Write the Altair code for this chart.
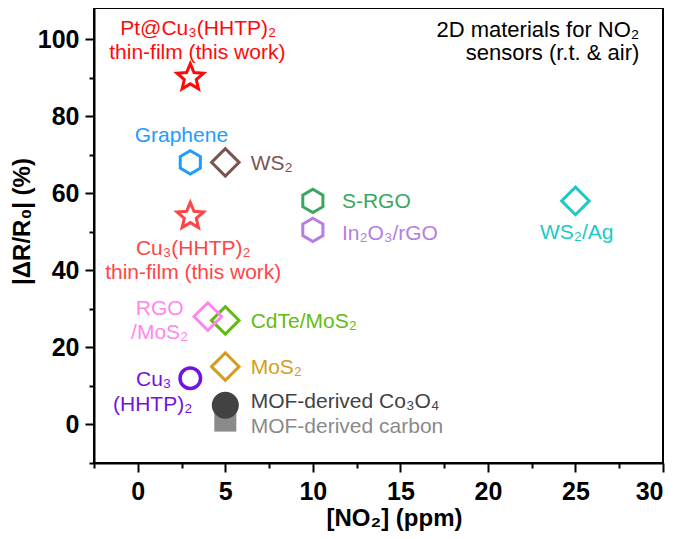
import altair as alt
import pandas as pd

# ---------------- data ----------------
materials = [
    "Pt@Cu3(HHTP)2 thin-film", "Cu3(HHTP)2 thin-film", "Graphene", "WS2",
    "S-RGO", "In2O3/rGO", "WS2/Ag", "CdTe/MoS2", "RGO/MoS2", "MoS2",
    "Cu3(HHTP)2", "MOF-derived carbon", "MOF-derived Co3O4",
]
no2_ppm = [3, 3, 3, 5, 10, 10, 25, 5, 4, 5, 3, 5, 5]
response_pct = [90, 54, 68, 68, 58, 50.5, 58, 27, 28, 15, 12, 1, 5]
marker = ["star", "star", "hexagon", "diamond", "hexagon", "hexagon", "diamond",
          "diamond", "diamond", "diamond", "ring", "square", "disc"]

# annotation texts (anchored in data units)
label_text = [
    "Pt@Cu₃(HHTP)₂", "thin-film (this work)", "Graphene", "WS₂", "S-RGO",
    "In₂O₃/rGO", "WS₂/Ag", "Cu₃(HHTP)₂", "thin-film (this work)", "RGO",
    "/MoS₂", "CdTe/MoS₂", "MoS₂", "Cu₃", "(HHTP)₂", "MOF-derived Co₃O₄",
    "MOF-derived carbon", "2D materials for NO₂", "sensors (r.t. & air)",
]
label_series = [
    "Pt@Cu3(HHTP)2 thin-film", "Pt@Cu3(HHTP)2 thin-film", "Graphene", "WS2",
    "S-RGO", "In2O3/rGO", "WS2/Ag", "Cu3(HHTP)2 thin-film", "Cu3(HHTP)2 thin-film",
    "RGO/MoS2", "RGO/MoS2", "CdTe/MoS2", "MoS2", "Cu3(HHTP)2", "Cu3(HHTP)2",
    "MOF-derived Co3O4", "MOF-derived carbon", "note", "note",
]
label_x = [3.45, 3.40, 2.49, 6.45, 11.66, 11.66, 25.07, 3.17, 3.17, 1.25,
           1.25, 6.45, 6.45, 0.91, 0.85, 6.45, 6.45, 28.65, 28.65]
label_y = [101.0, 94.8, 73.3, 66.0, 56.1, 47.8, 48.1, 43.9, 37.7, 28.3,
           22.3, 24.9, 13.2, 10.1, 3.6, 4.2, -2.3, 100.6, 94.5]
label_align = ["center", "center", "center", "left", "left", "left", "center",
               "center", "center", "center", "center", "left", "left", "center",
               "center", "left", "left", "right", "right"]

x_ticks = [-2.5, 0, 2.5, 5, 7.5, 10, 12.5, 15, 17.5, 20, 22.5, 25, 27.5, 30]
y_ticks = [-10, 0, 10, 20, 30, 40, 50, 60, 70, 80, 90, 100]

# ---------------- styles ----------------
series_colors = {
    "Pt@Cu3(HHTP)2 thin-film": "#ff0a0a",
    "Cu3(HHTP)2 thin-film": "#ff4646",
    "Graphene": "#1e9cff",
    "WS2": "#7a5550",
    "S-RGO": "#3aa75e",
    "In2O3/rGO": "#b47ee4",
    "WS2/Ag": "#1cc9c4",
    "CdTe/MoS2": "#63bb12",
    "RGO/MoS2": "#ff86ee",
    "MoS2": "#d49e1c",
    "Cu3(HHTP)2": "#7412de",
    "MOF-derived carbon": "#8a8a8a",
    "MOF-derived Co3O4": "#424242",
    "note": "#000000",
}
color_scale = alt.Scale(domain=list(series_colors.keys()),
                        range=list(series_colors.values()))

STAR = ("M0,-1L0.265,-0.364L0.951,-0.309L0.428,0.139L0.588,0.809L0,0.45"
        "L-0.588,0.809L-0.428,0.139L-0.951,-0.309L-0.265,-0.364Z")
HEX = "M0,-1L0.866,-0.5L0.866,0.5L0,1L-0.866,0.5L-0.866,-0.5Z"

FONT = "Liberation Sans"

pts = pd.DataFrame({"material": materials, "no2": no2_ppm,
                    "resp": response_pct, "marker": marker})
labels = pd.DataFrame({"text": label_text, "series": label_series,
                       "x": label_x, "y": label_y, "align": label_align})

x_scale = alt.Scale(domain=[-2.5, 30], nice=False, zero=False)
y_scale = alt.Scale(domain=[-10, 108.05], nice=False, zero=False)

x_axis = alt.Axis(
    title="[NO₂] (ppm)", values=x_ticks,
    labelExpr="datum.value % 5 === 0 ? datum.label : ''",
    tickSize={"condition": {"test": "datum.value % 5 !== 0", "value": 5}, "value": 9},
    labelPadding=7, titleX=300, titleY=62, titleBaseline="alphabetic",
)
y_axis = alt.Axis(
    title="|ΔR/R₀| (%)", values=y_ticks,
    labelExpr="datum.value % 20 === 0 ? datum.label : ''",
    tickSize={"condition": {"test": "datum.value % 20 !== 0", "value": 5}, "value": 9},
    labelPadding=6, titleX=-65, titleY=213, titleBaseline="alphabetic",
)

base = alt.Chart(pts).encode(
    x=alt.X("no2:Q", scale=x_scale, axis=x_axis),
    y=alt.Y("resp:Q", scale=y_scale, axis=y_axis),
    color=alt.Color("material:N", scale=color_scale, legend=None),
)

def layer(kind, **mark_kw):
    return base.transform_filter(alt.datum.marker == kind).mark_point(**mark_kw)

stars = layer("star", shape=STAR, size=780, filled=False, strokeWidth=3, opacity=1)
hexes = layer("hexagon", shape=HEX, size=540, filled=False, strokeWidth=3, opacity=1)
diamonds = layer("diamond", shape="diamond", size=760, filled=False, strokeWidth=3, opacity=1)
ring = layer("ring", shape="circle", size=420, filled=False, strokeWidth=3.5, opacity=1)
square = layer("square", shape="square", size=484, filled=True, opacity=1)
disc = layer("disc", shape="circle", size=729, filled=True, opacity=1)

def text_layer(al, size, note):
    cond = (alt.datum.align == al)
    cond = cond & ((alt.datum.series == "note") if note else (alt.datum.series != "note"))
    return alt.Chart(labels).transform_filter(cond).mark_text(
        align=al, baseline="alphabetic", font=FONT, fontSize=size,
    ).encode(
        x=alt.X("x:Q", scale=x_scale, axis=x_axis),
        y=alt.Y("y:Q", scale=y_scale, axis=y_axis),
        text="text:N",
        color=alt.Color("series:N", scale=color_scale, legend=None),
    )

texts = [text_layer("left", 21, False), text_layer("center", 21, False),
         text_layer("right", 22, True)]

chart = alt.layer(square, disc, hexes, diamonds, stars, ring, *texts).properties(
    width=569, height=455,
    autosize=alt.AutoSizeParams(type="none"),
    padding={"left": 86, "top": 0, "right": 5, "bottom": 68},
    background="white",
).configure_view(
    stroke="black", strokeWidth=2,
).configure_axis(
    grid=False, domainColor="black", domainWidth=2, tickColor="black",
    tickWidth=2, labelFont=FONT, labelFontSize=25, labelFontWeight="bold",
    labelColor="black", titleFont=FONT, titleFontSize=24, titleFontWeight="bold",
    titleColor="black",
)

chart.save("out.html", embed_options={"renderer": "svg", "actions": False})
